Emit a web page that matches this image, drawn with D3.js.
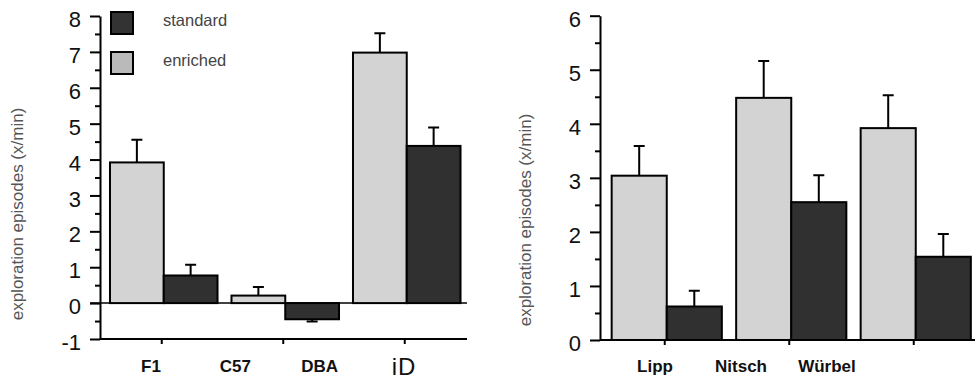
<!DOCTYPE html>
<html>
<head>
<meta charset="utf-8">
<script src="https://cdn.jsdelivr.net/npm/d3@7"></script>
<style>
  body { margin: 0; background: #fff; }
  svg { display: block; font-family: "Liberation Sans", Arial, sans-serif; }
</style>
</head>
<body>
<svg id="chart_svg" width="975" height="379"></svg>
<script>
// Left panel: strains
var strainGroups = ['F1', 'C57', 'iD'];
var strainLabels = ['F1', 'C57', 'DBA', 'iD'];
var strainEnriched = [3.92, 0.21, 6.98];
var strainEnrichedErr = [0.63, 0.24, 0.54];
var strainStandard = [0.77, -0.45, 4.38];
var strainStandardErr = [0.30, 0.06, 0.51];
var strainTicks = [-1, 0, 1, 2, 3, 4, 5, 6, 7, 8];

// Right panel: labs
var labGroups = ['Lipp', 'Nitsch', 'Würbel'];
var labEnriched = [3.04, 4.48, 3.92];
var labEnrichedErr = [0.55, 0.68, 0.61];
var labStandard = [0.62, 2.55, 1.54];
var labStandardErr = [0.29, 0.50, 0.42];
var labTicks = [0, 1, 2, 3, 4, 5, 6];

var conditions = ['enriched', 'standard'];
var legendLabels = ['standard', 'enriched'];

var colors = {
    'enriched': '#d3d3d3',
    'standard': '#303030'
};
var legendColors = {
    'enriched': '#bababa',
    'standard': '#333333'
};

var yLabel = 'exploration episodes (x/min)';

function build_rows(groups, enriched, enrichedErr, standard, standardErr) {
    return groups.map(function (g, i) {
        return {
            group: g,
            bars: [
                { cond: 'enriched', value: enriched[i], err: enrichedErr[i] },
                { cond: 'standard', value: standard[i], err: standardErr[i] }
            ]
        };
    });
}

function draw_panel(cfg) {
    var base = d3.select('#chart_svg');
    var g = base.append('g');

    var y = d3.scaleLinear().domain(cfg.yDomain).range(cfg.yRange);
    var x0 = d3.scaleBand()
               .domain(cfg.groups)
               .range(cfg.xRange)
               .paddingInner(0.115)
               .paddingOuter(0.0575);
    var x1 = d3.scaleBand()
               .domain(conditions)
               .range([0, x0.bandwidth()]);

    var minorTicks = d3.range(cfg.yDomain[0], cfg.yDomain[1], 0.5)
                       .filter(function (v) { return v % 1 !== 0; });

    // Minor ticks (no labels)
    g.append('g')
     .attr('transform', 'translate(' + cfg.axisX + ',0)')
     .call(d3.axisLeft(y).tickValues(minorTicks).tickSize(5).tickFormat(''))
     .call(function (a) { a.select('.domain').remove(); })
     .selectAll('line')
       .attr('stroke', '#000')
       .attr('stroke-width', 2);

    // Major ticks, plain hyphen for the minus sign
    var yAxis = g.append('g')
                 .attr('transform', 'translate(' + cfg.axisX + ',0)')
                 .attr('font-size', 22)
                 .attr('font-family', '"Liberation Sans", Arial, sans-serif')
                 .call(d3.axisLeft(y)
                         .tickValues(cfg.ticks)
                         .tickSize(10)
                         .tickSizeOuter(0)
                         .tickPadding(9)
                         .tickFormat(function (v) { return String(v); }));
    yAxis.select('.domain').attr('stroke', '#000').attr('stroke-width', 2);
    yAxis.selectAll('line').attr('stroke', '#000').attr('stroke-width', 2);
    yAxis.selectAll('text')
         .style('font-size', '22px')
         .attr('fill', '#111')
         .attr('dy', '0.48em');

    // Zero line (left panel only)
    if (cfg.zeroLine) {
        g.append('line')
         .attr('x1', cfg.axisX - 10)
         .attr('x2', cfg.xAxisEnd)
         .attr('y1', y(0))
         .attr('y2', y(0))
         .attr('stroke', '#000')
         .attr('stroke-width', 1.5);
    }

    // Bottom axis
    var xAxisY = y(cfg.yDomain[0]);
    g.append('line')
     .attr('x1', cfg.axisX)
     .attr('x2', cfg.xAxisEnd)
     .attr('y1', xAxisY)
     .attr('y2', xAxisY)
     .attr('stroke', '#000')
     .attr('stroke-width', 2);
    g.selectAll('.xtick')
     .data(cfg.groups)
     .enter()
     .append('line')
       .attr('class', 'xtick')
       .attr('x1', function (d) { return x0(d) + x0.bandwidth() / 2 - 2; })
       .attr('x2', function (d) { return x0(d) + x0.bandwidth() / 2 - 2; })
       .attr('y1', xAxisY)
       .attr('y2', xAxisY + 5)
       .attr('stroke', '#000')
       .attr('stroke-width', 2);

    // Bars
    var groups = g.selectAll('.group')
                  .data(cfg.rows)
                  .enter()
                  .append('g')
                    .attr('class', 'group')
                    .attr('transform', function (d) { return 'translate(' + x0(d.group) + ',0)'; });

    // Error bars first so the bar outline sits on top
    groups.selectAll('.err')
          .data(function (d) { return d.bars; })
          .enter()
          .append('path')
            .attr('class', 'err')
            .attr('d', function (b) {
                var cx = x1(b.cond) + x1.bandwidth() / 2;
                var tip = b.value >= 0 ? b.value + b.err : b.value - b.err;
                return 'M' + cx + ',' + y(b.value) + 'V' + y(tip) +
                       'M' + (cx - 5.5) + ',' + y(tip) + 'H' + (cx + 5.5);
            })
            .attr('fill', 'none')
            .attr('stroke', '#000')
            .attr('stroke-width', 2);

    groups.selectAll('rect')
          .data(function (d) { return d.bars; })
          .enter()
          .append('rect')
            .attr('x', function (b) { return x1(b.cond); })
            .attr('width', x1.bandwidth())
            .attr('y', function (b) { return y(Math.max(0, b.value)); })
            .attr('height', function (b) { return Math.abs(y(b.value) - y(0)); })
            .attr('fill', function (b) { return colors[b.cond]; })
            .attr('stroke', '#000')
            .attr('stroke-width', 2);

    // Category labels
    var xl = d3.scalePoint().domain(cfg.labels).range(cfg.labelRange);
    g.selectAll('.xlabel')
     .data(cfg.labels)
     .enter()
     .append('text')
       .attr('class', 'xlabel')
       .attr('x', function (d) { return xl(d); })
       .attr('y', function (d) { return d === 'iD' ? 375 : 372; })
       .attr('text-anchor', 'middle')
       .attr('font-size', function (d) { return d === 'iD' ? 24 : 17; })
       .attr('font-weight', function (d) { return d === 'iD' ? 'normal' : 'bold'; })
       .attr('letter-spacing', function (d) { return d === 'iD' ? 1 : 0; })
       .attr('fill', '#111')
       .text(function (d) { return d; });

    // Y axis title
    g.append('text')
     .attr('transform', 'translate(' + cfg.titleX + ',' + cfg.titleY + ') rotate(-90)')
     .attr('text-anchor', 'middle')
     .attr('dominant-baseline', 'central')
     .attr('font-size', 17)
     .attr('fill', '#555')
     .text(yLabel);

    return g;
}

function draw_legend() {
    var base = d3.select('#chart_svg');
    var leg = base.append('g').attr('class', 'legend');
    var ly = d3.scalePoint().domain(legendLabels).range([23, 63]);

    leg.selectAll('rect')
       .data(legendLabels)
       .enter()
       .append('rect')
         .attr('x', 111)
         .attr('y', function (d) { return ly(d) - 11; })
         .attr('width', 22)
         .attr('height', 22)
         .attr('fill', function (d) { return legendColors[d]; })
         .attr('stroke', '#000')
         .attr('stroke-width', 2);

    leg.selectAll('text')
       .data(legendLabels)
       .enter()
       .append('text')
         .attr('x', 163)
         .attr('y', function (d) { return ly(d) + 3; })
         .attr('font-size', 16.5)
         .attr('fill', '#444')
         .text(function (d) { return d; });
}

draw_panel({
    rows: build_rows(strainGroups, strainEnriched, strainEnrichedErr, strainStandard, strainStandardErr),
    groups: strainGroups,
    labels: strainLabels,
    ticks: strainTicks,
    yDomain: [-1, 8],
    yRange: [339, 16],
    xRange: [103, 467.5],
    axisX: 100,
    xAxisEnd: 467,
    zeroLine: true,
    labelRange: [151, 404],
    titleX: 17,
    titleY: 214
});

draw_panel({
    rows: build_rows(labGroups, labEnriched, labEnrichedErr, labStandard, labStandardErr),
    groups: labGroups,
    labels: labGroups,
    ticks: labTicks,
    yDomain: [0, 6],
    yRange: [340, 15.7],
    xRange: [604.5, 978],
    axisX: 600,
    xAxisEnd: 975,
    zeroLine: false,
    labelRange: [655, 827],
    titleX: 525,
    titleY: 220
});

draw_legend();
</script>
</body>
</html>
